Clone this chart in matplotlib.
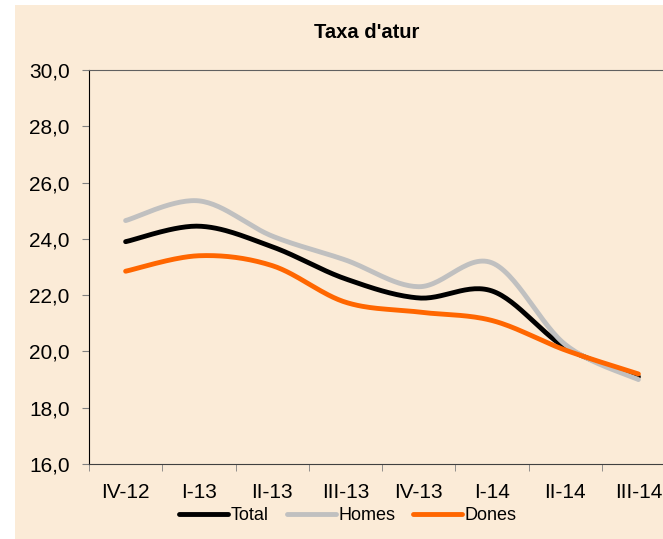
import numpy as np
import matplotlib.pyplot as plt
from matplotlib.patches import Rectangle

plt.rcParams['font.family'] = ['Liberation Sans', 'DejaVu Sans']

# data
quarters = ['IV-12', 'I-13', 'II-13', 'III-13', 'IV-13', 'I-14', 'II-14', 'III-14']
total = [23.9, 24.45, 23.72, 22.58, 21.9, 22.15, 20.15, 19.1]
homes = [24.65, 25.35, 24.1, 23.25, 22.3, 23.15, 20.25, 19.0]
dones = [22.85, 23.4, 23.05, 21.75, 21.4, 21.1, 20.05, 19.2]

bg = '#FBEBD7'


def smooth(y, n=30):
    # Catmull-Rom spline through the points, like Excel's smoothed line
    y = np.asarray(y, dtype=float)
    x = np.arange(len(y), dtype=float)
    pts = np.column_stack([x, y])
    padded = np.vstack([pts[0], pts, pts[-1]])
    out = []
    t = np.linspace(0, 1, n, endpoint=False)[:, None]
    for i in range(1, len(padded) - 2):
        p0, p1, p2, p3 = padded[i - 1], padded[i], padded[i + 1], padded[i + 2]
        c1 = p1 + (p2 - p0) / 6
        c2 = p2 - (p3 - p1) / 6
        seg = ((1 - t) ** 3 * p1 + 3 * (1 - t) ** 2 * t * c1
               + 3 * (1 - t) * t ** 2 * c2 + t ** 3 * p2)
        out.append(seg)
    out.append(pts[-1][None, :])
    out = np.vstack(out)
    return out[:, 0], out[:, 1]


fig = plt.figure(figsize=(6.63, 5.39), dpi=100)
fig.patch.set_facecolor('white')
fig.patches.append(Rectangle((15 / 663, 0), 1, 534 / 539, transform=fig.transFigure,
                             facecolor=bg, edgecolor='none', zorder=-10))

ax = fig.add_axes([89 / 663, 75 / 539, 586 / 663, 394 / 539])
ax.set_facecolor(bg)

for vals, col, lab in [(total, 'black', 'Total'), (homes, '#C0C0C0', 'Homes'),
                       (dones, '#FF6600', 'Dones')]:
    xs, ys = smooth(vals)
    ax.plot(xs, ys, color=col, lw=3.5, label=lab, solid_capstyle='round', clip_on=False)

ax.set_xlim(-0.5, len(quarters) - 0.5)
ax.set_ylim(16, 30)
ax.set_yticks(np.arange(16, 31, 2))
ax.set_yticklabels([f'{v:.1f}'.replace('.', ',') for v in np.arange(16, 31, 2)])
ax.set_xticks(np.arange(len(quarters)))
ax.set_xticklabels(quarters)
ax.set_xticks(np.arange(len(quarters) + 1) - 0.5, minor=True)
ax.tick_params(axis='x', which='major', length=0, pad=14, labelsize=15)
ax.tick_params(axis='x', which='minor', length=5, color='#808080', direction='out')
ax.tick_params(axis='y', length=5, color='#808080', pad=9, labelsize=15)

ax.spines['left'].set_color('black')
ax.spines['bottom'].set_color('#404040')
ax.spines['top'].set_color('#606060')
ax.spines['right'].set_visible(False)

fig.text(367 / 663, 1 - 32 / 539, "Taxa d'atur", ha='center', va='center',
         fontsize=14.5, fontweight='bold')

fig.legend(loc='center', bbox_to_anchor=(348 / 663, 1 - 516 / 539), ncol=3,
           frameon=False, fontsize=13, handlelength=2.7, handletextpad=0.15,
           columnspacing=1.0, borderpad=0)

fig.savefig('out.png', dpi=100, facecolor=fig.get_facecolor())
